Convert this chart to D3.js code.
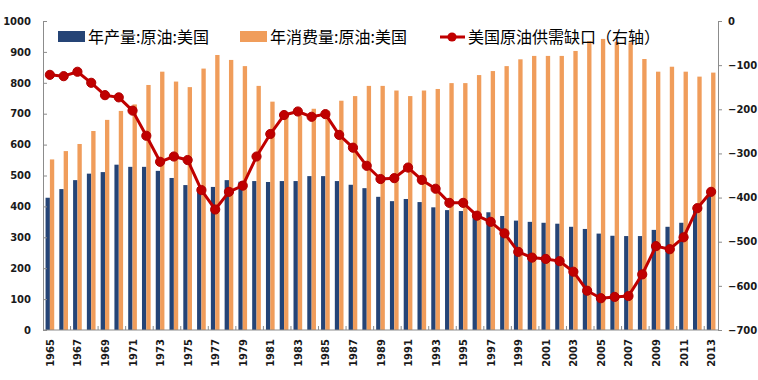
<!DOCTYPE html>
<html>
<head>
<meta charset="utf-8">
<script src="https://cdn.jsdelivr.net/npm/d3@7"></script>
<style>
  body { margin: 0; background: #fff; }
  svg { display: block; }
</style>
</head>
<body>
<div id="chart"></div>
<script>
// categories
var years = [1965, 1966, 1967, 1968, 1969, 1970, 1971, 1972, 1973, 1974,
  1975, 1976, 1977, 1978, 1979, 1980, 1981, 1982, 1983, 1984,
  1985, 1986, 1987, 1988, 1989, 1990, 1991, 1992, 1993, 1994,
  1995, 1996, 1997, 1998, 1999, 2000, 2001, 2002, 2003, 2004,
  2005, 2006, 2007, 2008, 2009, 2010, 2011, 2012, 2013];

// 年产量:原油:美国
var production = [428, 456, 485, 506, 511, 535, 528, 528, 515, 492,
  469, 462, 463, 485, 480, 482, 479, 482, 482, 498,
  498, 482, 470, 459, 431, 417, 424, 414, 397, 388,
  385, 381, 381, 369, 354, 350, 347, 344, 334, 327,
  312, 305, 304, 304, 324, 334, 347, 394, 446];

// 年消费量:原油:美国
var consumption = [552, 579, 602, 644, 680, 709, 730, 793, 836, 804,
  786, 846, 890, 874, 854, 790, 739, 700, 695, 716,
  710, 742, 757, 790, 790, 775, 757, 775, 780, 799,
  799, 825, 838, 854, 876, 887, 887, 887, 903, 935,
  942, 933, 931, 877, 836, 852, 836, 820, 833];

// 美国原油供需缺口（右轴）
var gap = [-122, -125, -115, -140, -168, -173, -203, -260, -319, -307,
  -315, -383, -427, -387, -373, -307, -256, -213, -205, -217,
  -211, -258, -287, -328, -358, -356, -332, -360, -380, -412,
  -412, -441, -455, -481, -523, -536, -539, -544, -568, -611,
  -628, -625, -623, -574, -510, -517, -490, -424, -387];

var leftTicks = [0, 100, 200, 300, 400, 500, 600, 700, 800, 900, 1000];
var rightTicks = [0, -100, -200, -300, -400, -500, -600, -700];
var yearLabels = years.filter(function (d, i) { return i % 2 === 0; });

var seriesNames = ["年产量:原油:美国", "年消费量:原油:美国", "美国原油供需缺口（右轴）"];
var colors = ["#254476", "#F09D5B", "#C00000"];

var width = 758, height = 380;
var plotLeft = 43, plotRight = 718, plotTop = 21, plotBottom = 330;

var svg = d3.select("#chart").append("svg")
  .attr("width", width)
  .attr("height", height);

var x0 = d3.scaleBand()
  .domain(years)
  .range([plotLeft, plotRight])
  .paddingInner(0.37)
  .paddingOuter(0.185);

var x1 = d3.scaleBand()
  .domain([0, 1])
  .range([0, x0.bandwidth()]);

var yLeft = d3.scaleLinear().domain([0, 1000]).range([plotBottom, plotTop]);
var yRight = d3.scaleLinear().domain([-700, 0]).range([plotBottom, plotTop]);

var cx = function (d) { return x0(d) + x0.bandwidth() / 2; };

// bars
var barData = years.map(function (y, i) {
  return {year: y, values: [production[i], consumption[i]]};
});

var groups = svg.append("g").selectAll("g")
  .data(barData)
  .enter().append("g")
  .attr("transform", function (d) { return "translate(" + x0(d.year) + ",0)"; });

groups.selectAll("rect")
  .data(function (d) { return d.values.map(function (v, k) { return {k: k, v: v}; }); })
  .enter().append("rect")
  .attr("x", function (d) { return x1(d.k); })
  .attr("width", x1.bandwidth())
  .attr("y", function (d) { return yLeft(d.v); })
  .attr("height", function (d) { return plotBottom - yLeft(d.v); })
  .attr("fill", function (d) { return colors[d.k]; });

// axes
var axisColor = "#8c8c8c";
var labelFont = "'DejaVu Sans', Verdana, sans-serif";

var gl = svg.append("g")
  .attr("transform", "translate(" + plotLeft + ",0)")
  .call(d3.axisLeft(yLeft).tickValues(leftTicks).tickFormat(d3.format("d"))
    .tickSizeInner(-4).tickSizeOuter(0).tickPadding(12));
var gr = svg.append("g")
  .attr("transform", "translate(" + plotRight + ",0)")
  .call(d3.axisRight(yRight).tickValues(rightTicks).tickFormat(d3.format("d"))
    .tickSizeInner(4).tickSizeOuter(0).tickPadding(6));

var xb = d3.scaleLinear().domain([0, years.length]).range([plotLeft, plotRight]);
var gb = svg.append("g").attr("transform", "translate(0," + plotBottom + ")");
gb.append("line").attr("x1", plotLeft).attr("x2", plotRight).attr("stroke", axisColor);
gb.selectAll("line.tk")
  .data(d3.range(2, years.length, 2))
  .enter().append("line")
  .attr("class", "tk")
  .attr("x1", function (d) { return xb(d); })
  .attr("x2", function (d) { return xb(d); })
  .attr("y1", 0).attr("y2", -4)
  .attr("stroke", axisColor);
gb.selectAll("text")
  .data(yearLabels)
  .enter().append("text")
  .attr("transform", function (d) { return "translate(" + (cx(d) + 4) + ",9) rotate(-90)"; })
  .attr("text-anchor", "end")
  .style("font-family", labelFont)
  .style("font-weight", "bold")
  .style("font-size", "10px")
  .attr("fill", "#1a1a1a")
  .text(function (d) { return d; });

[gl, gr].forEach(function (g) {
  g.select(".domain").attr("stroke", axisColor);
  g.selectAll(".tick line").attr("stroke", axisColor);
  g.selectAll(".tick text")
    .style("font-family", labelFont)
    .style("font-weight", "bold")
    .style("font-size", "10px")
    .attr("fill", "#1a1a1a");
});

// gap line
var line = d3.line()
  .x(function (d, i) { return cx(years[i]); })
  .y(function (d) { return yRight(d); });

svg.append("path")
  .datum(gap)
  .attr("d", line)
  .attr("fill", "none")
  .attr("stroke", colors[2])
  .attr("stroke-width", 3)
  .attr("stroke-linejoin", "round");

svg.append("g").selectAll("circle")
  .data(gap)
  .enter().append("circle")
  .attr("cx", function (d, i) { return cx(years[i]); })
  .attr("cy", function (d) { return yRight(d); })
  .attr("r", 4.6)
  .attr("fill", "#C00000")
  .attr("stroke", "#B00000")
  .attr("stroke-width", 1);

// legend
var legendFont = "'Noto Sans CJK SC', 'Noto Sans', sans-serif";
var legendY = 37;
var leg = svg.append("g");
leg.append("rect").attr("x", 58).attr("y", 31).attr("width", 27).attr("height", 11).attr("fill", colors[0]);
leg.append("rect").attr("x", 240).attr("y", 31).attr("width", 27).attr("height", 11).attr("fill", colors[1]);
leg.append("line").attr("x1", 440).attr("x2", 465).attr("y1", legendY).attr("y2", legendY)
  .attr("stroke", colors[2]).attr("stroke-width", 3);
leg.append("circle").attr("cx", 452).attr("cy", legendY).attr("r", 4.6).attr("fill", "#C00000");

var legendX = [88, 270, 468];
leg.selectAll("text")
  .data(seriesNames)
  .enter().append("text")
  .attr("x", function (d, i) { return legendX[i]; })
  .attr("y", legendY)
  .attr("dy", "0.36em")
  .style("font-family", legendFont)
  .style("font-size", "16px")
  .attr("fill", "#000")
  .text(function (d) { return d; });
</script>
</body>
</html>
